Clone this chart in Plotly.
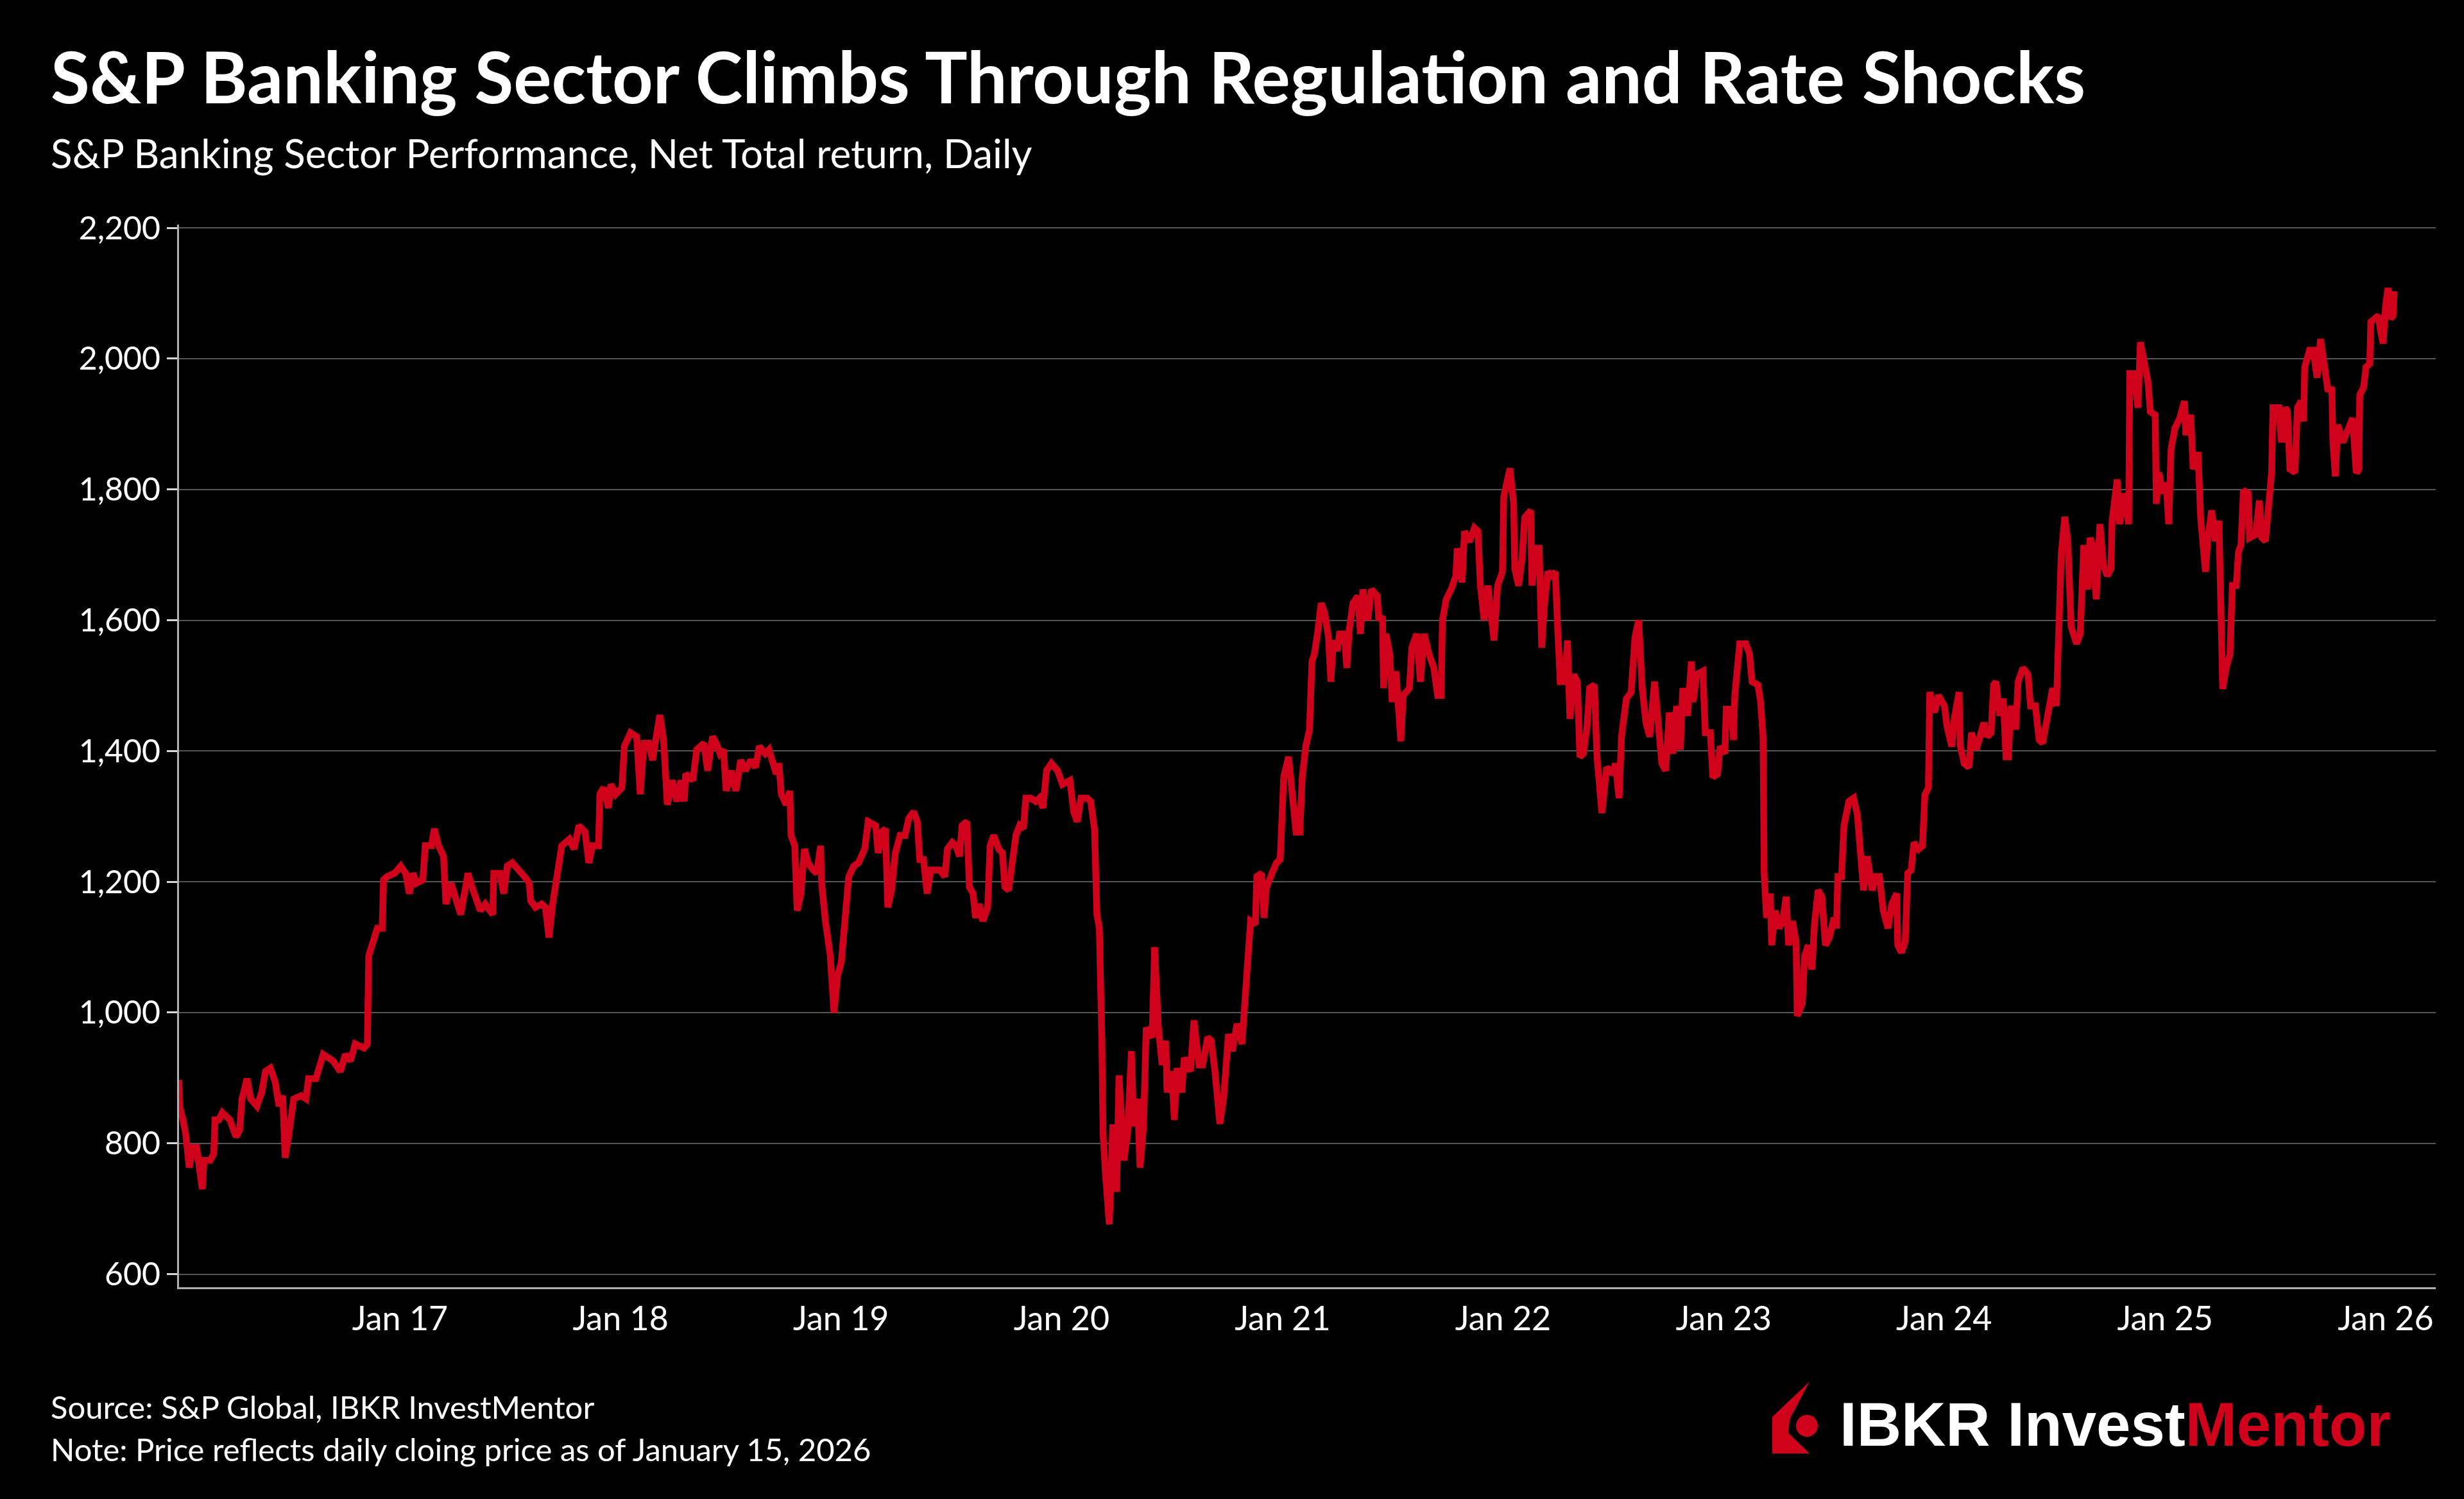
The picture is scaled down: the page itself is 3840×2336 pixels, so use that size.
import pandas as pd
import plotly.graph_objects as go

# ---- Data: time as decimal year, S&P banking sector index level ----
t_2016_17 = [2016.000, 2016.002, 2016.018, 2016.030, 2016.046, 2016.063, 2016.080, 2016.091, 2016.105, 2016.113,
             2016.141, 2016.157, 2016.163, 2016.180, 2016.196, 2016.230, 2016.258, 2016.274, 2016.285, 2016.308,
             2016.324, 2016.352, 2016.374, 2016.391, 2016.413, 2016.435, 2016.452, 2016.469, 2016.480, 2016.497,
             2016.519, 2016.552, 2016.574, 2016.586, 2016.619, 2016.652, 2016.697, 2016.730, 2016.752, 2016.775,
             2016.797, 2016.836, 2016.852, 2016.858, 2016.875, 2016.897, 2016.919, 2016.925, 2016.941, 2016.975,
             2017.003, 2017.025, 2017.042, 2017.058, 2017.075, 2017.103, 2017.114, 2017.142, 2017.155, 2017.175,
             2017.197, 2017.208, 2017.231, 2017.253, 2017.275, 2017.297, 2017.308, 2017.331, 2017.364, 2017.386,
             2017.420, 2017.425, 2017.453, 2017.470, 2017.486, 2017.509, 2017.542, 2017.564, 2017.586, 2017.592,
             2017.614, 2017.642, 2017.659, 2017.675, 2017.692, 2017.709]
v_2016_17 = [897, 857, 836, 815, 763, 794, 794, 768, 730, 774,
             774, 784, 836, 836, 847, 836, 810, 820, 868, 899,
             868, 857, 878, 910, 915, 894, 857, 873, 778, 815,
             868, 873, 868, 899, 899, 936, 926, 910, 936, 926,
             952, 946, 952, 1087, 1108, 1129, 1129, 1203, 1208, 1213,
             1224, 1213, 1182, 1213, 1198, 1203, 1255, 1255, 1281, 1255,
             1239, 1166, 1198, 1177, 1150, 1192, 1213, 1187, 1156, 1166,
             1150, 1213, 1213, 1182, 1224, 1229, 1218, 1208, 1198, 1171,
             1161, 1166, 1161, 1115, 1166, 1208]

t_2017_19 = [2017.717, 2017.733, 2017.767, 2017.789, 2017.811, 2017.839, 2017.856, 2017.872, 2017.900, 2017.906,
             2017.923, 2017.945, 2017.956, 2017.978, 2018.006, 2018.017, 2018.045, 2018.073, 2018.089, 2018.106,
             2018.128, 2018.145, 2018.162, 2018.178, 2018.195, 2018.212, 2018.234, 2018.256, 2018.273, 2018.289,
             2018.295, 2018.328, 2018.345, 2018.378, 2018.395, 2018.417, 2018.434, 2018.451, 2018.467, 2018.479,
             2018.501, 2018.523, 2018.545, 2018.567, 2018.590, 2018.612, 2018.629, 2018.656, 2018.673, 2018.690,
             2018.706, 2018.718, 2018.729, 2018.751, 2018.768, 2018.773, 2018.790, 2018.801, 2018.818, 2018.834,
             2018.851, 2018.873, 2018.890, 2018.907, 2018.912, 2018.929, 2018.951, 2018.968, 2018.984, 2019.001,
             2019.018, 2019.035, 2019.057, 2019.079, 2019.107, 2019.123, 2019.157, 2019.168, 2019.185, 2019.201,
             2019.212, 2019.229, 2019.246, 2019.268, 2019.290, 2019.307, 2019.329, 2019.346, 2019.357, 2019.374,
             2019.390, 2019.407, 2019.429]
v_2017_19 = [1213, 1255, 1265, 1250, 1286, 1276, 1229, 1255, 1255, 1334,
             1344, 1313, 1349, 1334, 1344, 1407, 1428, 1422, 1334, 1412,
             1412, 1386, 1422, 1455, 1417, 1318, 1355, 1323, 1355, 1323,
             1365, 1355, 1402, 1412, 1370, 1422, 1412, 1396, 1402, 1339,
             1370, 1339, 1386, 1370, 1386, 1375, 1407, 1396, 1402, 1381,
             1365, 1381, 1334, 1318, 1339, 1271, 1255, 1156, 1182, 1250,
             1229, 1218, 1213, 1255, 1198, 1140, 1087, 1000, 1056, 1077,
             1135, 1208, 1224, 1229, 1250, 1292, 1286, 1244, 1276, 1281,
             1161, 1187, 1244, 1271, 1271, 1297, 1307, 1292, 1234, 1234,
             1182, 1218, 1218]

t_2019_21 = [2019.448, 2019.471, 2019.482, 2019.504, 2019.521, 2019.537, 2019.549, 2019.571, 2019.582, 2019.599,
             2019.610, 2019.626, 2019.643, 2019.665, 2019.676, 2019.693, 2019.715, 2019.732, 2019.743, 2019.760,
             2019.777, 2019.793, 2019.810, 2019.827, 2019.838, 2019.860, 2019.882, 2019.899, 2019.916, 2019.932,
             2019.954, 2019.982, 2020.004, 2020.038, 2020.055, 2020.071, 2020.088, 2020.116, 2020.132, 2020.149,
             2020.160, 2020.171, 2020.182, 2020.188, 2020.199, 2020.216, 2020.232, 2020.249, 2020.260, 2020.282,
             2020.299, 2020.316, 2020.327, 2020.344, 2020.355, 2020.371, 2020.383, 2020.410, 2020.421, 2020.438,
             2020.455, 2020.472, 2020.477, 2020.499, 2020.510, 2020.522, 2020.544, 2020.555, 2020.583, 2020.599,
             2020.622, 2020.638, 2020.661, 2020.677, 2020.694, 2020.716, 2020.733, 2020.755, 2020.772, 2020.794,
             2020.816, 2020.833, 2020.850, 2020.855, 2020.877, 2020.883, 2020.905, 2020.916, 2020.927, 2020.950,
             2020.972, 2020.989, 2021.005, 2021.027, 2021.044, 2021.061, 2021.078, 2021.089, 2021.105, 2021.122,
             2021.133, 2021.144]
v_2019_21 = [1218, 1208, 1250, 1260, 1255, 1239, 1286, 1292, 1192, 1182,
             1145, 1166, 1140, 1161, 1255, 1271, 1250, 1244, 1192, 1187,
             1229, 1271, 1286, 1281, 1328, 1328, 1323, 1328, 1313, 1370,
             1381, 1370, 1349, 1355, 1307, 1292, 1328, 1328, 1323, 1281,
             1150, 1129, 962, 815, 752, 676, 829, 726, 904, 774,
             815, 941, 826, 868, 763, 826, 977, 962, 1100, 978,
             920, 957, 878, 910, 836, 915, 878, 931, 910, 988,
             920, 920, 962, 957, 910, 830, 868, 967, 941, 983,
             952, 1030, 1087, 1140, 1135, 1208, 1213, 1145, 1192, 1208,
             1229, 1234, 1360, 1391, 1344, 1276, 1276, 1360, 1407, 1433,
             1537, 1548]

t_2021_22 = [2021.158, 2021.175, 2021.191, 2021.208, 2021.219, 2021.230, 2021.247, 2021.258, 2021.280, 2021.291,
             2021.302, 2021.319, 2021.341, 2021.353, 2021.364, 2021.386, 2021.403, 2021.430, 2021.436, 2021.453,
             2021.458, 2021.469, 2021.486, 2021.497, 2021.514, 2021.536, 2021.547, 2021.575, 2021.586, 2021.608,
             2021.625, 2021.642, 2021.664, 2021.686, 2021.703, 2021.719, 2021.725, 2021.742, 2021.764, 2021.786,
             2021.792, 2021.814, 2021.825, 2021.847, 2021.870, 2021.886, 2021.897, 2021.914, 2021.931, 2021.959,
             2021.975, 2021.997, 2022.003, 2022.031, 2022.048, 2022.053, 2022.070, 2022.086, 2022.098, 2022.125,
             2022.131, 2022.148, 2022.164, 2022.175, 2022.187, 2022.203, 2022.220, 2022.237, 2022.248, 2022.259,
             2022.281, 2022.292, 2022.303, 2022.320, 2022.337, 2022.348, 2022.364, 2022.381, 2022.392, 2022.414,
             2022.426, 2022.448, 2022.470, 2022.498, 2022.509, 2022.526, 2022.537, 2022.559, 2022.581, 2022.598,
             2022.615, 2022.631, 2022.648, 2022.665, 2022.687, 2022.704, 2022.720, 2022.737, 2022.754, 2022.770,
             2022.787, 2022.804, 2022.815, 2022.837, 2022.854]
v_2021_22 = [1579, 1626, 1611, 1574, 1506, 1569, 1553, 1579, 1579, 1527,
             1585, 1626, 1637, 1579, 1647, 1600, 1647, 1637, 1600, 1606,
             1496, 1579, 1548, 1475, 1522, 1415, 1485, 1496, 1558, 1579,
             1506, 1579, 1548, 1527, 1485, 1485, 1600, 1632, 1647, 1668,
             1710, 1658, 1736, 1720, 1741, 1736, 1653, 1600, 1653, 1569,
             1653, 1674, 1789, 1832, 1778, 1679, 1653, 1694, 1757, 1768,
             1653, 1710, 1710, 1558, 1621, 1674, 1668, 1674, 1584, 1506,
             1506, 1569, 1449, 1517, 1506, 1391, 1396, 1438, 1496, 1501,
             1391, 1305, 1375, 1365, 1381, 1328, 1422, 1480, 1490, 1574,
             1600, 1496, 1443, 1422, 1506, 1443, 1381, 1370, 1459, 1396,
             1469, 1402, 1496, 1454, 1537]

t_2022_24 = [2022.862, 2022.878, 2022.906, 2022.917, 2022.940, 2022.951, 2022.973, 2022.984, 2023.006, 2023.012,
             2023.034, 2023.045, 2023.051, 2023.073, 2023.101, 2023.118, 2023.129, 2023.156, 2023.168, 2023.179,
             2023.184, 2023.195, 2023.212, 2023.218, 2023.234, 2023.251, 2023.268, 2023.284, 2023.295, 2023.312,
             2023.329, 2023.334, 2023.357, 2023.368, 2023.384, 2023.401, 2023.412, 2023.429, 2023.446, 2023.462,
             2023.479, 2023.501, 2023.512, 2023.518, 2023.535, 2023.546, 2023.568, 2023.590, 2023.607, 2023.624,
             2023.635, 2023.651, 2023.674, 2023.690, 2023.707, 2023.724, 2023.746, 2023.763, 2023.785, 2023.790,
             2023.807, 2023.824, 2023.835, 2023.851, 2023.863, 2023.885, 2023.902, 2023.913, 2023.929, 2023.935,
             2023.957, 2023.974, 2023.985, 2024.002, 2024.013, 2024.035, 2024.046, 2024.068, 2024.074, 2024.091,
             2024.113, 2024.124, 2024.146, 2024.163, 2024.180, 2024.196, 2024.213, 2024.224, 2024.235, 2024.252,
             2024.268, 2024.280, 2024.291, 2024.302, 2024.324, 2024.335, 2024.357, 2024.380, 2024.391, 2024.413,
             2024.430, 2024.446, 2024.469, 2024.491, 2024.508, 2024.519, 2024.530, 2024.546, 2024.560, 2024.575]
v_2022_24 = [1475, 1517, 1522, 1428, 1428, 1360, 1365, 1407, 1396, 1464,
             1464, 1417, 1485, 1564, 1564, 1548, 1506, 1501, 1475, 1422,
             1213, 1145, 1182, 1103, 1156, 1129, 1140, 1177, 1103, 1140,
             1109, 995, 1014, 1087, 1103, 1066, 1135, 1187, 1177, 1103,
             1114, 1145, 1129, 1208, 1208, 1286, 1323, 1328, 1302, 1239,
             1187, 1239, 1187, 1208, 1208, 1156, 1129, 1166, 1182, 1103,
             1092, 1109, 1213, 1218, 1260, 1250, 1255, 1333, 1344, 1490,
             1459, 1485, 1480, 1469, 1438, 1407, 1449, 1490, 1407, 1381,
             1375, 1428, 1402, 1428, 1443, 1422, 1428, 1501, 1506, 1454,
             1480, 1391, 1391, 1469, 1433, 1506, 1527, 1517, 1469, 1469,
             1417, 1412, 1449, 1496, 1469, 1595, 1700, 1758, 1720, 1590]

t_2024_26 = [2024.599, 2024.616, 2024.621, 2024.632, 2024.649, 2024.660, 2024.671, 2024.688, 2024.705, 2024.721,
             2024.738, 2024.755, 2024.760, 2024.783, 2024.794, 2024.816, 2024.835, 2024.840, 2024.860, 2024.877,
             2024.888, 2024.905, 2024.922, 2024.933, 2024.955, 2024.960, 2024.972, 2024.988, 2025.005, 2025.016,
             2025.027, 2025.044, 2025.066, 2025.088, 2025.094, 2025.116, 2025.127, 2025.149, 2025.161, 2025.183,
             2025.194, 2025.211, 2025.227, 2025.244, 2025.250, 2025.261, 2025.277, 2025.294, 2025.305, 2025.322,
             2025.333, 2025.344, 2025.355, 2025.377, 2025.383, 2025.411, 2025.427, 2025.439, 2025.455, 2025.472,
             2025.483, 2025.489, 2025.516, 2025.528, 2025.544, 2025.555, 2025.566, 2025.589, 2025.600, 2025.617,
             2025.628, 2025.633, 2025.655, 2025.672, 2025.689, 2025.705, 2025.722, 2025.739, 2025.756, 2025.761,
             2025.772, 2025.783, 2025.806, 2025.828, 2025.850, 2025.867, 2025.878, 2025.883, 2025.900, 2025.911,
             2025.928, 2025.933, 2025.950, 2025.967, 2025.978, 2025.989, 2026.000, 2026.011, 2026.022, 2026.034,
             2026.039]
v_2024_26 = [1564, 1579, 1647, 1715, 1647, 1726, 1715, 1632, 1747, 1684,
             1668, 1679, 1752, 1815, 1747, 1794, 1747, 1977, 1977, 1925,
             2025, 1987, 1966, 1919, 1914, 1778, 1826, 1794, 1810, 1747,
             1862, 1893, 1909, 1935, 1883, 1914, 1831, 1857, 1757, 1674,
             1726, 1768, 1721, 1752, 1611, 1495, 1527, 1548, 1653, 1653,
             1705, 1715, 1799, 1794, 1726, 1731, 1783, 1726, 1721, 1799,
             1826, 1925, 1925, 1872, 1925, 1919, 1831, 1826, 1925, 1935,
             1904, 1987, 2013, 2013, 1971, 2030, 1992, 1950, 1956, 1872,
             1820, 1899, 1872, 1893, 1909, 1825, 1831, 1945, 1956, 1987,
             1992, 2056, 2061, 2066, 2040, 2023, 2082, 2108, 2061, 2066,
             2103]

y_tick_values = [600, 800, 1000, 1200, 1400, 1600, 1800, 2000, 2200]
y_tick_labels = ["600", "800", "1,000", "1,200", "1,400", "1,600", "1,800", "2,000", "2,200"]
x_tick_dates = ["2017-01-01", "2018-01-01", "2019-01-01", "2020-01-01", "2021-01-01",
                "2022-01-01", "2023-01-01", "2024-01-01", "2025-01-01", "2026-01-01"]
x_tick_labels = ["Jan 17", "Jan 18", "Jan 19", "Jan 20", "Jan 21",
                 "Jan 22", "Jan 23", "Jan 24", "Jan 25", "Jan 26"]

TITLE = "S&amp;P Banking Sector Climbs Through Regulation and Rate Shocks"
SUBTITLE = "S&amp;P Banking Sector Performance, Net Total return, Daily"
SOURCE = "Source: S&amp;P Global, IBKR InvestMentor"
NOTE = "Note: Price reflects daily cloing price as of January 15, 2026"

# ---- build series ----
t_all = t_2016_17 + t_2017_19 + t_2019_21 + t_2021_22 + t_2022_24 + t_2024_26
v_all = v_2016_17 + v_2017_19 + v_2019_21 + v_2021_22 + v_2022_24 + v_2024_26


def dec_to_date(t):
    y = int(t)
    start = pd.Timestamp(year=y, month=1, day=1)
    end = pd.Timestamp(year=y + 1, month=1, day=1)
    return start + (end - start) * (t - y)


dates = [dec_to_date(t) for t in t_all]

RED = "#D0021B"
FONT = "Lato, Roboto, 'Noto Sans', sans-serif"

fig = go.Figure()
fig.add_trace(go.Scatter(
    x=dates, y=v_all, mode="lines",
    line=dict(color=RED, width=10.5),
    hoverinfo="skip", showlegend=False,
))

fig.update_layout(
    width=3840, height=2336,
    margin=dict(l=279, r=44, t=350, b=330, pad=0),
    paper_bgcolor="#000000", plot_bgcolor="#000000",
    font=dict(family=FONT, color="#FFFFFF", size=52),
    showlegend=False,
)

fig.update_xaxes(
    type="date", range=["2016-01-01", "2026-03-25"],
    tickmode="array", tickvals=x_tick_dates, ticktext=x_tick_labels,
    showgrid=False, zeroline=False,
    showline=True, linecolor="#B0B0B0", linewidth=3,
    ticks="", ticklabelstandoff=2,
    tickfont=dict(family=FONT, size=52, color="#FFFFFF"),
)
fig.update_yaxes(
    range=[580, 2205],
    tickmode="array", tickvals=y_tick_values, ticktext=y_tick_labels,
    showgrid=True, gridcolor="#555555", gridwidth=2, zeroline=False,
    showline=True, linecolor="#B0B0B0", linewidth=3,
    ticks="outside", ticklen=16, tickwidth=3, tickcolor="#D8D8D8",
    tickfont=dict(family=FONT, size=50, color="#FFFFFF"),
)

annotations = [
    dict(text="<b>" + TITLE + "</b>", x=-0.0574, y=1.1401, xanchor="left", yanchor="middle",
         font=dict(family=FONT, size=111, color="#FFFFFF")),
    dict(text=SUBTITLE, x=-0.0574, y=1.0676, xanchor="left", yanchor="middle",
         font=dict(family=FONT, size=62, color="#FFFFFF")),
    dict(text=SOURCE, x=-0.0574, y=-0.1123, xanchor="left", yanchor="middle",
         font=dict(family=FONT, size=49, color="#FFFFFF")),
    dict(text=NOTE, x=-0.0574, y=-0.1522, xanchor="left", yanchor="middle",
         font=dict(family=FONT, size=49, color="#FFFFFF")),
    dict(text="<b>IBKR Invest</b><b><span style='color:" + RED + "'>Mentor</span></b>",
         x=0.7352, y=-0.1292, xanchor="left", yanchor="middle",
         font=dict(family="'Liberation Sans', Arial, sans-serif", size=96, color="#FFFFFF")),
]
for a in annotations:
    a.update(xref="paper", yref="paper", showarrow=False, align="left")
fig.update_layout(annotations=annotations)

# logo mark
fig.add_shape(type="path", xref="paper", yref="paper",
              path="M 0.7225,-0.0888 L 0.7060,-0.1220 L 0.7060,-0.1564 L 0.7225,-0.1564 "
                   "L 0.7131,-0.1371 L 0.7137,-0.1244 Z",
              fillcolor=RED, line=dict(width=0))
fig.add_shape(type="circle", xref="paper", yref="paper",
              x0=0.7165, x1=0.7262, y0=-0.1407, y1=-0.1202,
              fillcolor=RED, line=dict(width=0))

fig.write_html(
    "out.html",
    config={"displayModeBar": False},
    post_script="document.body.style.margin='0';document.body.style.background='#000';"
                "document.documentElement.style.overflow='hidden';",
)
